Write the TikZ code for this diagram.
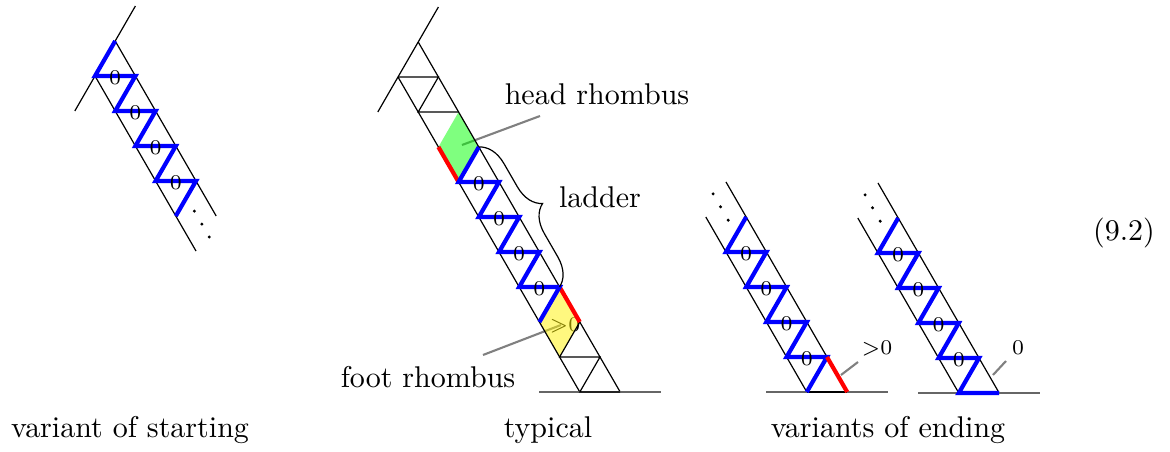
\documentclass[tikz,border=0pt]{standalone}
\usetikzlibrary{decorations.pathreplacing,calc}
\tikzset{
  edge/.style={black, line width=0.4pt},
  zz/.style={blue, line width=1.4pt},
  rd/.style={red, line width=1.4pt},
  ptr/.style={gray, line width=0.7pt},
  grd/.style={black!60, line width=0.5pt},
  lbl/.style={font=\scriptsize, inner sep=0pt},
  txt/.style={inner sep=0pt, anchor=base},
  lat/.style={x={(13.467pt,0pt)}, y={(6.733pt,-11.667pt)}},
  brc/.style={decorate, decoration={brace, amplitude=9pt}, line width=0.4pt}
}
\begin{document}
\begin{tikzpicture}[x=0.33333pt,y=-0.33333pt]
\useasboundingbox (0,0) rectangle (1170,452);

% captions and labels
\node[txt] (tstart) at (130,438) {variant of starting};
\node[txt] (ttyp) at (548,438) {typical};
\node[txt] (tend) at (888,438) {variants of ending};
\node[txt] (teq) at (1124,241) {(9.2)};
\node[txt] (thead) at (597,105) {head rhombus};
\node[txt] (tfoot) at (428,388) {foot rhombus};
\node[txt] (tlad) at (600,208) {ladder};
\node[lbl] (tgt) at (565,325) {$>$0};
\node[lbl] (egt) at (877,348) {$>$0};
\node[lbl] (ezero) at (1018,348) {0};

% pointers
\coordinate (hpA) at (540,116);
\coordinate (hpB) at (462,145);
\coordinate (fpA) at (483,355);
\coordinate (fpB) at (561,325);
\coordinate (epA) at (858,362);
\coordinate (epB) at (841,375);
\coordinate (ezA) at (1006,361);
\coordinate (ezB) at (993,375);
\draw[ptr] (hpA) -- (hpB);
\draw[ptr] (fpA) -- (fpB);
\draw[ptr] (epA) -- (epB);
\draw[ptr] (ezA) -- (ezB);

% variant of starting
\begin{scope}[shift={(95,76)}, lat]
  \draw[edge] (-1,1) -- (2,-2);
  \draw[edge] (0,0) -- (0,5);
  \draw[edge] (1,-1) -- (1,4);
  \draw[zz] (1,-1) -- (0,0) -- (1,0) -- (0,1) -- (1,1) -- (0,2) -- (1,2) -- (0,3) -- (1,3) -- (0,4);
  \foreach \j in {0,...,3} \node[lbl, yshift=-0.7pt] (s\j) at (0.5,\j) {0};
  \foreach \t in {3.86,4.23,4.6} \fill (0.53,\t) circle[radius=0.55pt];
\end{scope}

% typical
\begin{scope}[shift={(398,77)}, lat]
  \fill[green, opacity=0.5] (1,1) -- (1,2) -- (0,3) -- (0,2) -- cycle;
  \fill[yellow, opacity=0.5] (1,6) -- (1,7) -- (0,8) -- (0,7) -- cycle;
  \draw[edge] (-1,1) -- (2,-2);
  \draw[edge] (0,0) -- (0,9);
  \draw[edge] (1,-1) -- (1,9);
  \draw[edge] (0,0) -- (1,0) -- (0,1) -- (1,1);
  \draw[grd] (-1,9) -- (2,9);
  \draw[edge] (1,7) -- (0,8) -- (1,8) -- (0,9) -- (1,9);
  \draw[rd] (0,2) -- (0,3);
  \draw[rd] (1,6) -- (1,7);
  \draw[zz] (1,2) -- (0,3) -- (1,3) -- (0,4) -- (1,4) -- (0,5) -- (1,5) -- (0,6) -- (1,6) -- (0,7);
  \foreach \j in {3,...,6} \node[lbl, yshift=-0.7pt] (t\j) at (0.5,\j) {0};
  \draw[brc] (1,2) -- (1,6);
\end{scope}

% variant of ending 1
\begin{scope}[shift={(726,252)}, lat]
  \draw[edge] (0,-1) -- (0,4);
  \draw[edge] (1,-2) -- (1,4);
  \draw[grd] (-1,4) -- (2,4);
  \draw[edge] (0,4) -- (1,4);
  \draw[zz] (1,-1) -- (0,0) -- (1,0) -- (0,1) -- (1,1) -- (0,2) -- (1,2) -- (0,3) -- (1,3) -- (0,4);
  \draw[rd] (1,3) -- (1,4);
  \foreach \j in {0,...,3} \node[lbl, yshift=-0.7pt] (a\j) at (0.5,\j) {0};
  \foreach \t in {-1.66,-1.29,-0.91} \fill (0.51,\t) circle[radius=0.55pt];
\end{scope}

% variant of ending 2
\begin{scope}[shift={(878,253)}, lat]
  \draw[edge] (0,-1) -- (0,4);
  \draw[edge] (1,-2) -- (1,4);
  \draw[grd] (-1,4) -- (2,4);
  \draw[zz] (1,-1) -- (0,0) -- (1,0) -- (0,1) -- (1,1) -- (0,2) -- (1,2) -- (0,3) -- (1,3) -- (0,4) -- (1,4);
  \foreach \j in {0,...,3} \node[lbl, yshift=-0.7pt] (b\j) at (0.5,\j) {0};
  \foreach \t in {-1.66,-1.29,-0.91} \fill (0.51,\t) circle[radius=0.55pt];
\end{scope}
\end{tikzpicture}
\end{document}
